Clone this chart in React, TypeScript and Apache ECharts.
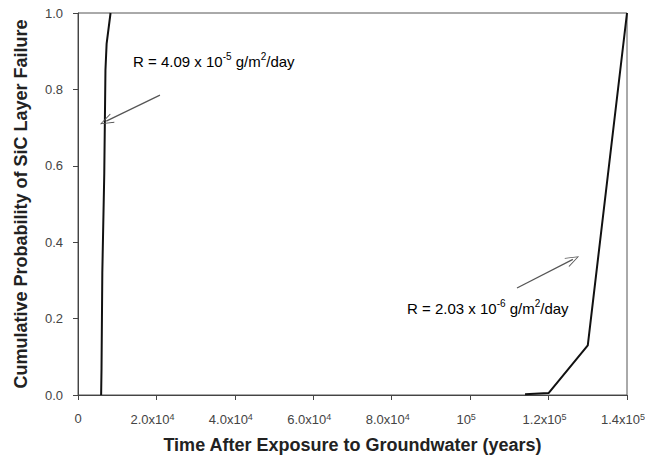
import React, { useEffect, useRef } from "react";
import * as echarts from "echarts";

const fastSeries: [number, number][] = [
  [5900, 0],
  [6000, 0.07],
  [6200, 0.32],
  [6700, 0.58],
  [7000, 0.85],
  [7300, 0.92],
  [8300, 1.0],
];

const slowSeries: [number, number][] = [
  [114000, 0.002],
  [120000, 0.005],
  [130000, 0.13],
  [140000, 1.0],
];

const xTickLabels: Record<number, string> = {
  0: "0",
  20000: "2.0x10{s|4}",
  40000: "4.0x10{s|4}",
  60000: "6.0x10{s|4}",
  80000: "8.0x10{s|4}",
  100000: "10{s|5}",
  120000: "1.2x10{s|5}",
  140000: "1.4x10{s|5}",
};

const arrowFast = { from: [20900, 0.785], to: [7200, 0.717] };
const arrowSlow = { from: [111950, 0.28], to: [126200, 0.355] };

const openArrow =
  "path://M0,0 L5,12 L4.2,12.4 L0,2 L-4.2,12.4 L-5,12 Z";

const FONT = "'Liberation Sans', Arial, sans-serif";

export default function App() {
  const ref = useRef<HTMLDivElement>(null);
  useEffect(() => {
    if (!ref.current) return;
    const chart = echarts.init(ref.current, null, { renderer: "svg" });
    const richText = {
      n: { fontSize: 15, fontFamily: FONT, color: "#444", lineHeight: 18, verticalAlign: "bottom" },
      s: { fontSize: 10, fontFamily: FONT, color: "#444", lineHeight: 18, verticalAlign: "top" },
    };
    chart.setOption({
      animation: false,
      backgroundColor: "#fff",
      grid: { left: 78, right: 26, top: 13, bottom: 69, show: true, borderColor: "#555", borderWidth: 1 },
      xAxis: {
        type: "value",
        min: 0,
        max: 140000,
        interval: 20000,
        name: "Time After Exposure to Groundwater (years)",
        nameLocation: "middle",
        nameGap: 41,
        nameTextStyle: { fontFamily: FONT, fontSize: 18, fontWeight: "bold", color: "#222" },
        axisLine: { lineStyle: { color: "#444", width: 1 } },
        axisTick: { show: true, inside: false, length: 5, lineStyle: { color: "#444" } },
        splitLine: { show: false },
        axisLabel: {
          color: "#444",
          fontFamily: FONT,
          fontSize: 13,
          margin: 17,
          formatter: (v: number) => xTickLabels[v] ?? "",
          rich: {
            s: { fontSize: 9, fontFamily: FONT, color: "#444", verticalAlign: "top", padding: [0, 8, 6, 0] },
          },
        },
      },
      yAxis: {
        type: "value",
        min: 0,
        max: 1,
        interval: 0.2,
        name: "Cumulative Probability of SiC Layer Failure",
        nameLocation: "middle",
        nameGap: 48,
        nameTextStyle: { fontFamily: FONT, fontSize: 18, fontWeight: "bold", color: "#222" },
        axisLine: { show: true, lineStyle: { color: "#444", width: 1 } },
        axisTick: { show: true, inside: false, length: 5, lineStyle: { color: "#444" } },
        splitLine: { show: false },
        axisLabel: {
          color: "#444",
          fontFamily: FONT,
          fontSize: 13,
          margin: 15,
          formatter: (v: number) => v.toFixed(1),
        },
      },
      series: [
        {
          type: "line",
          data: fastSeries,
          showSymbol: false,
          lineStyle: { color: "#111", width: 2 },
          markLine: {
            silent: true,
            symbolSize: [10, 14],
            label: { show: false },
            lineStyle: { color: "#555", width: 1.2, type: "solid" },
            data: [
              [
                { coord: arrowFast.from, symbol: "none" },
                { coord: arrowFast.to, symbol: openArrow },
              ],
            ],
          },
        },
        {
          type: "line",
          data: slowSeries,
          showSymbol: false,
          lineStyle: { color: "#111", width: 2 },
          markLine: {
            silent: true,
            symbolSize: [10, 14],
            label: { show: false },
            lineStyle: { color: "#555", width: 1.2, type: "solid" },
            data: [
              [
                { coord: arrowSlow.from, symbol: "none" },
                { coord: arrowSlow.to, symbol: openArrow },
              ],
            ],
          },
        },
      ],
      graphic: [
        {
          type: "text",
          left: 133,
          top: 51,
          style: {
            text: "{n|R = 4.09 x 10}{s|-5}{n| g/m}{s|2}{n|/day}",
            rich: richText,
          },
        },
        {
          type: "text",
          left: 407,
          top: 298,
          style: {
            text: "{n|R = 2.03 x 10}{s|-6}{n| g/m}{s|2}{n|/day}",
            rich: richText,
          },
        },
      ],
    });
    return () => chart.dispose();
  }, []);
  return <div ref={ref} style={{ width: 653, height: 464, margin: -8 }} />;
}
